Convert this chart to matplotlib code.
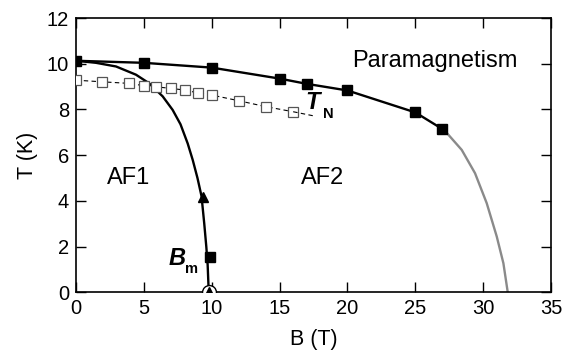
import numpy as np
import matplotlib
matplotlib.use('Agg')
import matplotlib.pyplot as plt

plt.rcParams['font.family'] = ['Liberation Sans', 'DejaVu Sans']

# T_N (solid squares) and guide line
tn_b = [0, 5, 10, 15, 17, 20, 25, 27]
tn_t = [10.13, 10.04, 9.83, 9.35, 9.12, 8.83, 7.87, 7.14]

# open squares (dashed)
open_b = [0, 1.9, 3.9, 5.0, 5.9, 7.0, 8.0, 9.0, 10.0, 12.0, 14.0, 16.0]
open_t = [9.28, 9.21, 9.14, 9.04, 8.99, 8.92, 8.85, 8.72, 8.63, 8.38, 8.12, 7.9]
dash_end_b = [16.0, 17.5]
dash_end_t = [7.9, 7.72]

# grey extrapolation of T_N
grey_b = [27.07, 28.42, 29.4, 30.26, 31.0, 31.49, 31.81]
grey_t = [7.14, 6.23, 5.21, 3.9, 2.44, 1.27, 0.0]

# B_m boundary
bm_line_b = [0.0, 1.47, 2.95, 4.42, 5.40, 6.39, 7.12, 7.70, 8.23, 8.60, 8.95, 9.25, 9.45, 9.6, 9.7, 9.78]
bm_line_t = [10.13, 10.04, 9.88, 9.52, 9.14, 8.57, 7.98, 7.35, 6.51, 5.79, 5.0, 4.2, 3.0, 2.0, 1.2, 0.0]
tri_b, tri_t = [9.33, 9.8], [4.15, 0.0]
sq_b, sq_t = [9.87], [1.55]
circ_b, circ_t = [9.8], [0.0]

fig = plt.figure(figsize=(5.74, 3.64), dpi=100)
ax = fig.add_axes([0.1324, 0.197, 0.8276, 0.7535])

ax.plot(bm_line_b, bm_line_t, color='black', lw=1.7, solid_joinstyle='round', zorder=3)
ax.plot(grey_b, grey_t, color='#8a8a8a', lw=1.7, solid_joinstyle='round', zorder=2)
ax.plot(tn_b, tn_t, color='black', lw=1.7, marker='s', ms=7, mfc='black', mec='black', zorder=4)
ax.plot(open_b, open_t, color='black', lw=0.8, ls=(0, (4, 3)), marker='s', ms=6.5,
        mfc='white', mec='#555555', mew=0.9, zorder=3)
ax.plot(dash_end_b, dash_end_t, color='black', lw=0.8, ls=(0, (4, 3)), zorder=3)
ax.plot(circ_b, circ_t, ls='none', marker='o', ms=10, mfc='white', mec='black', mew=1.0, zorder=5)
ax.plot(tri_b, tri_t, ls='none', marker='^', ms=7.5, mfc='black', mec='black', zorder=6)
ax.plot(sq_b, sq_t, ls='none', marker='s', ms=6.5, mfc='black', mec='black', zorder=6)

ax.set_xlim(0, 35)
ax.set_ylim(0, 12)
ax.set_xticks(np.arange(0, 36, 5))
ax.set_yticks(np.arange(0, 13, 2))
ax.tick_params(direction='in', length=7, width=1.0, top=True, right=True,
               labelsize=14.5, pad=5)
for s in ax.spines.values():
    s.set_linewidth(1.2)

ax.set_xlabel('B (T)', fontsize=15.5, labelpad=8)
ax.set_ylabel('T (K)', fontsize=15.5, labelpad=6)

fs = 17
ax.text(26.4, 10.1, 'Paramagnetism', fontsize=fs, ha='center', va='center')
ax.text(3.9, 5.0, 'AF1', fontsize=fs, ha='center', va='center')
ax.text(18.2, 5.0, 'AF2', fontsize=fs, ha='center', va='center')
ax.text(17.4, 8.3, 'T', fontsize=fs, fontweight='bold', style='italic', ha='center', va='center')
ax.text(18.2, 7.8, 'N', fontsize=10.5, fontweight='bold', ha='left', va='center')
ax.text(7.44, 1.5, 'B', fontsize=fs, fontweight='bold', style='italic', ha='center', va='center')
ax.text(8.03, 1.02, 'm', fontsize=10.5, fontweight='bold', ha='left', va='center')

fig.savefig('out.png', dpi=100)
